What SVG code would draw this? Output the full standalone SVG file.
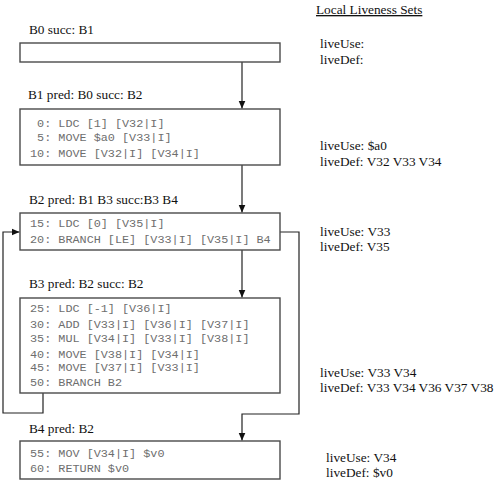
<svg xmlns="http://www.w3.org/2000/svg" width="496" height="483" viewBox="0 0 496 483">
<style>
.box{fill:#fff;stroke:#4a4a4a;stroke-width:1.4}
.lbl{font-family:"Liberation Serif",serif;font-size:13.3px;fill:#111}
.code{font-family:"Liberation Mono",monospace;font-size:11.8px;fill:#6e6e6e;white-space:pre}
.live{font-family:"Liberation Serif",serif;font-size:13.3px;fill:#111}
.edge{fill:none;stroke:#222;stroke-width:1.2}
</style>
<defs>
<marker id="ah" markerWidth="8" markerHeight="8" refX="8" refY="4" orient="auto" markerUnits="userSpaceOnUse">
<path d="M0,0.5 L8,4 L0,7.5 Z" fill="#111"/>
</marker>
</defs>
<rect width="496" height="483" fill="#fff"/>
<g id="edges">
<path class="edge" d="M242,62 V108.5" marker-end="url(#ah)"/>
<path class="edge" d="M242,165 V212.5" marker-end="url(#ah)"/>
<path class="edge" d="M242,250 V297.5" marker-end="url(#ah)"/>
<path class="edge" d="M43,393 V413 H3 V232 H19.5" marker-end="url(#ah)"/>
<path class="edge" d="M280,232 H299 V414 H242 V440.5" marker-end="url(#ah)"/>
</g>
<g id="B0">
<text class="lbl" x="29" y="34">B0 succ: B1</text>
<rect class="box" x="20" y="43" width="260" height="19"/>
</g>
<g id="B1">
<text class="lbl" x="28" y="99">B1 pred: B0 succ: B2</text>
<rect class="box" x="20" y="109" width="260" height="56"/>
<text class="code" x="30" y="127"> 0: LDC [1] [V32|I]</text>
<text class="code" x="30" y="141"> 5: MOVE $a0 [V33|I]</text>
<text class="code" x="30" y="157">10: MOVE [V32|I] [V34|I]</text>
</g>
<g id="B2">
<text class="lbl" x="29" y="204">B2 pred: B1 B3 succ:B3 B4</text>
<rect class="box" x="20" y="213" width="260" height="37"/>
<text class="code" x="30" y="227">15: LDC [0] [V35|I]</text>
<text class="code" x="30" y="243">20: BRANCH [LE] [V33|I] [V35|I] B4</text>
</g>
<g id="B3">
<text class="lbl" x="29" y="288">B3 pred: B2 succ: B2</text>
<rect class="box" x="20" y="298" width="260" height="95"/>
<text class="code" x="30" y="312">25: LDC [-1] [V36|I]</text>
<text class="code" x="30" y="328">30: ADD [V33|I] [V36|I] [V37|I]</text>
<text class="code" x="30" y="342">35: MUL [V34|I] [V33|I] [V38|I]</text>
<text class="code" x="30" y="358">40: MOVE [V38|I] [V34|I]</text>
<text class="code" x="30" y="371">45: MOVE [V37|I] [V33|I]</text>
<text class="code" x="30" y="386">50: BRANCH B2</text>
</g>
<g id="B4">
<text class="lbl" x="29" y="433">B4 pred: B2</text>
<rect class="box" x="20" y="441" width="260" height="38"/>
<text class="code" x="30" y="457">55: MOV [V34|I] $v0</text>
<text class="code" x="30" y="472">60: RETURN $v0</text>
</g>
<g id="liveness">
<text class="live" x="316" y="14" text-decoration="underline">Local Liveness Sets</text>
<text class="live" x="320" y="48">liveUse:</text>
<text class="live" x="320" y="64">liveDef:</text>
<text class="live" x="320" y="150">liveUse: $a0</text>
<text class="live" x="320" y="166">liveDef: V32 V33 V34</text>
<text class="live" x="320" y="236">liveUse: V33</text>
<text class="live" x="320" y="251">liveDef: V35</text>
<text class="live" x="320" y="377">liveUse: V33 V34</text>
<text class="live" x="320" y="392">liveDef: V33 V34 V36 V37 V38</text>
<text class="live" x="326" y="462">liveUse: V34</text>
<text class="live" x="326" y="477">liveDef: $v0</text>
</g>
</svg>
